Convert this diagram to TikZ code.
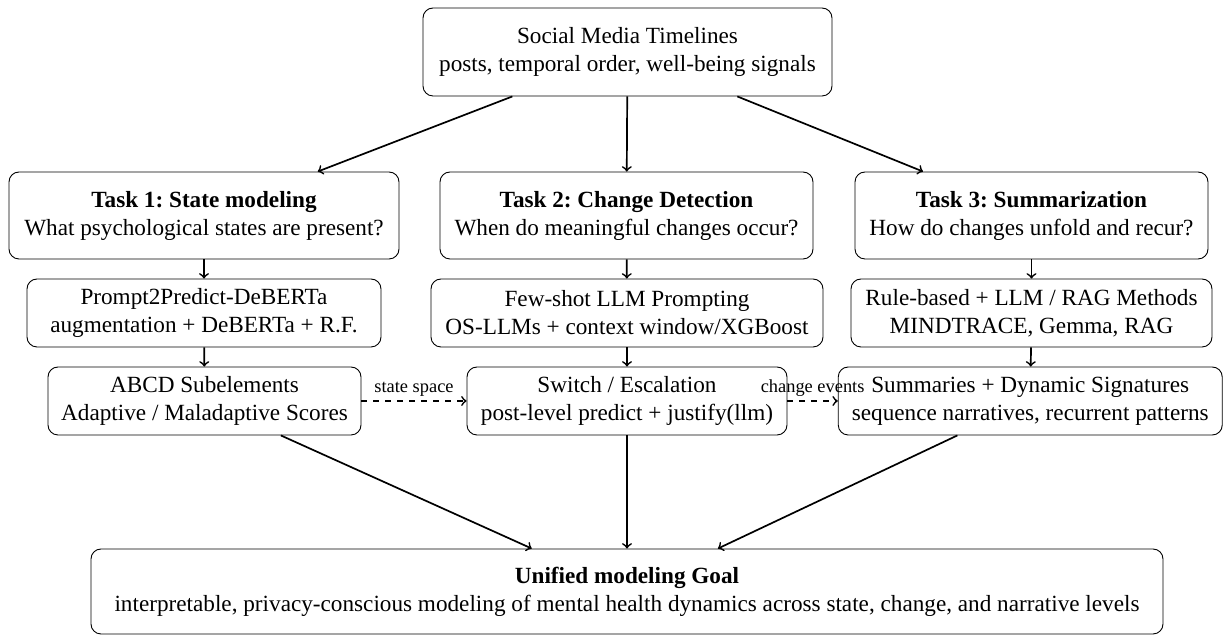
\documentclass[tikz,border=0pt]{standalone}
\usepackage{fontspec}
\setmainfont{Liberation Serif}
\frenchspacing
\begin{document}
\begin{tikzpicture}[x=0.5pt,y=-0.5pt,
  font=\fontsize{11.6}{14}\selectfont,
  box/.style={draw, rounded corners=5pt, align=center, inner sep=0pt, line width=0.45pt},
  arr/.style={->, line width=0.85pt},
  darr/.style={->, dashed, line width=0.85pt},
  lab/.style={font=\fontsize{9.2}{11}\selectfont, inner sep=2pt}]
\useasboundingbox (0,0) rectangle (1223,635);
\node[box, minimum width=204.5pt, minimum height=44pt] (top) at (627.5,52)
  {Social Media Timelines\\posts, temporal order, well-being signals};
\node[box, minimum width=195pt, minimum height=43.5pt] (t1) at (204,215.5)
  {\textbf{Task 1: State modeling}\\What psychological states are present?};
\node[box, minimum width=186.5pt, minimum height=43.5pt] (t2) at (626.5,215.5)
  {\textbf{Task 2: Change Detection}\\When do meaningful changes occur?};
\node[box, minimum width=176.5pt, minimum height=43.5pt] (t3) at (1031.5,215.5)
  {\textbf{Task 3: Summarization}\\How do changes unfold and recur?};
\node[box, minimum width=177pt, minimum height=34pt] (p1) at (204,313)
  {Prompt2Predict-DeBERTa\\augmentation + DeBERTa + R.F.};
\node[box, minimum width=196pt, minimum height=34pt] (p2) at (627,313)
  {Few-shot LLM Prompting\\OS-LLMs + context window/XGBoost};
\node[box, minimum width=180.5pt, minimum height=34pt] (p3) at (1031.5,313)
  {Rule-based + LLM / RAG Methods\\MINDTRACE, Gemma, RAG};
\node[box, minimum width=156.5pt, minimum height=34pt] (a1) at (204.5,401)
  {ABCD Subelements\\Adaptive / Maladaptive Scores};
\node[box, minimum width=160pt, minimum height=34pt] (a2) at (627,401)
  {Switch / Escalation\\post-level predict + justify(llm)};
\node[box, minimum width=192pt, minimum height=34pt] (a3) at (1030.25,401)
  {Summaries + Dynamic Signatures\\sequence narratives, recurrent patterns};
\node[box, minimum width=536pt, minimum height=42.5pt] (u) at (627,591.5)
  {\textbf{Unified modeling Goal}\\interpretable, privacy-conscious modeling of mental health dynamics across state, change, and narrative levels};
\draw[arr] (top) -- (t1);
\draw[arr] (top) -- (t2);
\draw[arr] (top) -- (t3);
\draw[arr] (t1) -- (p1);
\draw[arr] (t2) -- (p2);
\draw[arr] (t3) -- (p3);
\draw[arr] (p1) -- (a1);
\draw[arr] (p2) -- (a2);
\draw[arr] (p3) -- (a3);
\draw[darr] (a1) -- node[lab, above] {state space} (a2);
\draw[darr] (a2) -- node[lab, above] {change events} (a3);
\draw[arr] (a1) -- (u);
\draw[arr] (a2) -- (u);
\draw[arr] (a3) -- (u);
\end{tikzpicture}
\end{document}
